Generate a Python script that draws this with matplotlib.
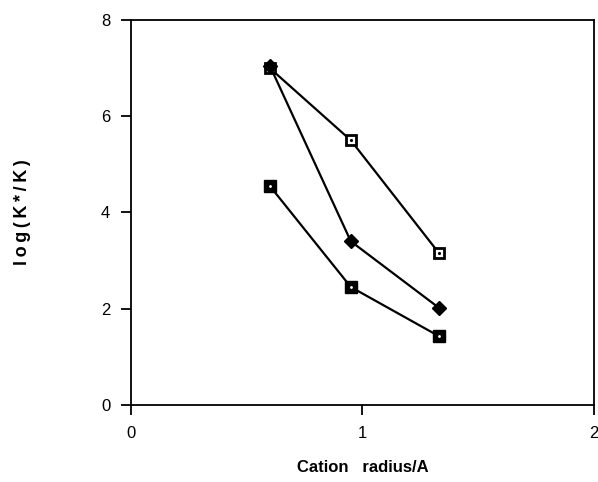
import matplotlib
matplotlib.use("Agg")
import matplotlib.pyplot as plt

plt.rcParams['font.family'] = ['Liberation Sans', 'DejaVu Sans']

# Data
radius = [0.60, 0.95, 1.33]
open_sq = [7.00, 5.50, 3.16]
diamond = [7.05, 3.40, 2.02]
filled_sq = [4.55, 2.45, 1.43]

fig = plt.figure(figsize=(5.98, 4.82), dpi=100)
ax = fig.add_axes([0.219, 0.160, 0.774, 0.7985])

lw = 1.6
ax.plot(radius, open_sq, color='black', lw=lw, marker='s', ms=7.5,
        mfc='white', mec='black', mew=2.0, zorder=3)
ax.plot(radius, open_sq, ls='none', marker='.', ms=2.5, color='black', zorder=4)
ax.plot(radius, diamond, color='black', lw=lw, marker='D', ms=7,
        mfc='black', mec='black', zorder=3)
ax.plot(radius, filled_sq, color='black', lw=lw, marker='s', ms=8,
        mfc='black', mec='black', zorder=3)
ax.plot(radius, filled_sq, ls='none', marker='.', ms=2, color='white', zorder=4)

ax.set_xlim(0, 2)
ax.set_ylim(0, 8)
ax.set_xticks([0, 1, 2])
ax.set_yticks([0, 2, 4, 6, 8])
ax.tick_params(direction='out', length=7, width=1.3, labelsize=12, pad=8)
for s in ax.spines.values():
    s.set_linewidth(1.3)

ax.set_xlabel('Cation   radius/A', fontsize=12, fontweight='bold', labelpad=14)
ylab = '\u2009'.join('log(K*/K)')
ax.set_ylabel(ylab, fontsize=13, fontweight='bold', labelpad=50)

fig.savefig('out.png', dpi=100)
